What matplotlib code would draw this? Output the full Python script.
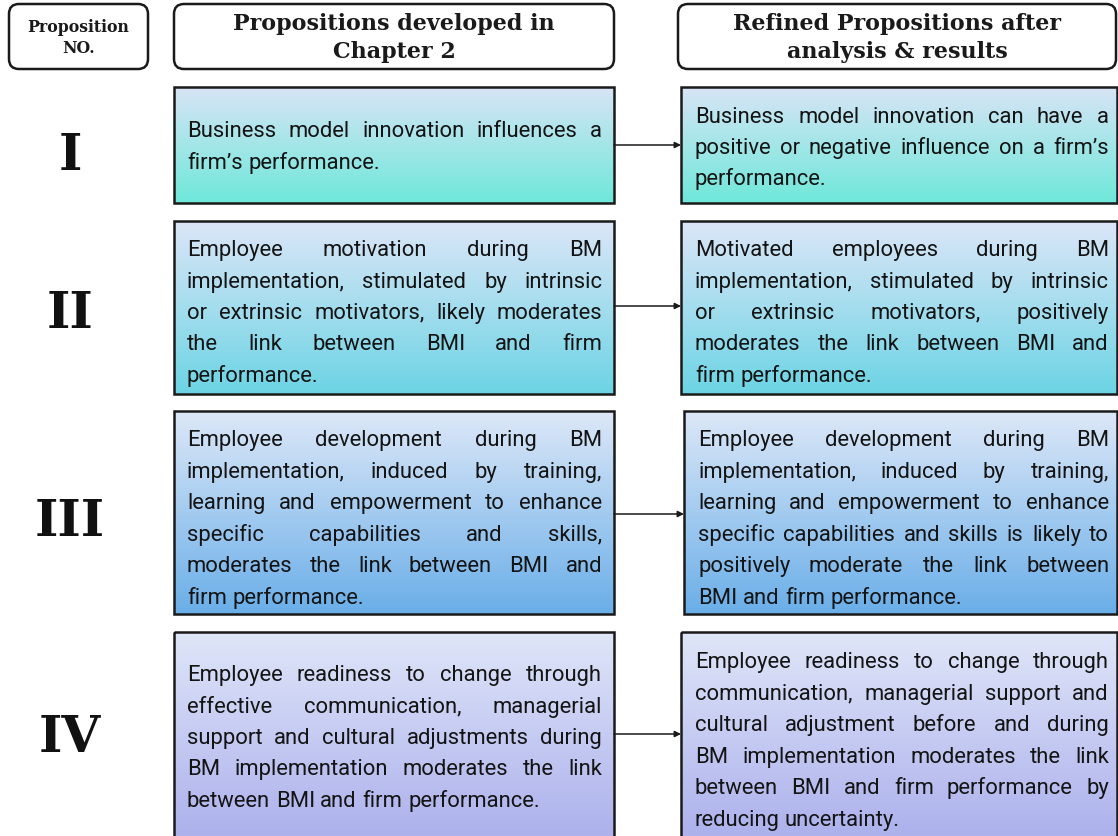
import matplotlib
matplotlib.use("Agg")
import matplotlib.pyplot as plt
import numpy as np
from matplotlib.patches import FancyBboxPatch, Rectangle
from matplotlib.font_manager import FontProperties
from matplotlib.colors import to_rgb

# ---------------- content ----------------
headers = ["Proposition\nNO.", "Propositions developed in\nChapter 2",
           "Refined Propositions after\nanalysis & results"]
numerals = ["I", "II", "III", "IV"]

left_lines = [
    ["Business model innovation influences a",
     "firm\u2019s performance."],
    ["Employee motivation during BM",
     "implementation, stimulated by intrinsic",
     "or extrinsic motivators, likely moderates",
     "the link between BMI and firm",
     "performance."],
    ["Employee development during BM",
     "implementation, induced by training,",
     "learning and empowerment to enhance",
     "specific capabilities and skills,",
     "moderates the link between BMI and",
     "firm performance."],
    ["Employee readiness to change through",
     "effective communication, managerial",
     "support and cultural adjustments during",
     "BM implementation moderates the link",
     "between BMI and firm performance."],
]
right_lines = [
    ["Business model innovation can have a",
     "positive or negative influence on a firm\u2019s",
     "performance."],
    ["Motivated employees during BM",
     "implementation, stimulated by intrinsic",
     "or extrinsic motivators, positively",
     "moderates the link between BMI and",
     "firm performance."],
    ["Employee development during BM",
     "implementation, induced by training,",
     "learning and empowerment to enhance",
     "specific capabilities and skills is likely to",
     "positively moderate the link between",
     "BMI and firm performance."],
    ["Employee readiness to change through",
     "communication, managerial support and",
     "cultural adjustment before and during",
     "BM implementation moderates the link",
     "between BMI and firm performance by",
     "reducing uncertainty."],
]
top_colors = ["#d8e4f6", "#dce6f8", "#dde8f8", "#dfe6f8"]
bottom_colors = ["#6ee8da", "#6cd4e4", "#6aaee8", "#acb0ec"]

# ---------------- layout ----------------
serif = "DejaVu Serif"
body = "Roboto"
FS = 22 * 72 / 100  # 22 px em
LINE = 31.4
TXT = "#141414"
body_fp = FontProperties(family=body, size=FS)


def ink_mask(s):
    f = plt.figure(figsize=(8, 1), dpi=100)
    f.text(0.02, 0.5, s, fontproperties=body_fp, va="baseline", color="black")
    f.canvas.draw()
    arr = np.asarray(f.canvas.buffer_rgba())[..., :3].astype(float).mean(axis=2)
    plt.close(f)
    return arr < 160


_shift_cache = {}


def baseline_shift(word):
    """Rows by which Agg draws `word` lower than a full-descent reference."""
    if word in _shift_cache:
        return _shift_cache[word]
    s = 0
    try:
        m1 = ink_mask(word)
        m2 = ink_mask(word + "p")
        cols = np.where(m1.any(axis=0))[0]
        if len(cols) > 4:
            c0, c1 = cols.min(), cols.max() - 2
            p1 = m1[:, c0:c1].sum(axis=1).astype(float)
            p2 = m2[:, c0:c1].sum(axis=1).astype(float)
            best = None
            for k in range(-4, 5):
                err = np.abs(np.roll(p1, -k) - p2).sum()
                if best is None or err < best:
                    best, s = err, k
    except Exception:
        s = 0
    _shift_cache[word] = s
    return s


W, H = 1118, 837
fig = plt.figure(figsize=(W / 100, H / 100), dpi=100)
ax = fig.add_axes([0, 0, 1, 1])
ax.set_xlim(0, W)
ax.set_ylim(H, 0)
ax.axis("off")

row_y = [(88, 204), (222, 395), (412, 615), (633, 841)]
left_x = (174, 614)
right_x = [(681, 1117), (681, 1117), (684, 1117), (681, 1117)]
left_text_center = [146, 312, 518, 737]
right_text_center = [147, 312, 518, 740]
numeral_center = [151, 309, 517, 733]
arrow_y = [146, 307, 515, 735]

# headers
hdr_boxes = [(9, 148), (174, 614), (678, 1116)]
hdr_sizes = [11.3, 16, 16]
hdr_ls = [1.35, 1.3, 1.3]
for (x0, x1), txt, fs, ls in zip(hdr_boxes, headers, hdr_sizes, hdr_ls):
    p = FancyBboxPatch((x0 + 10, 5 + 10), (x1 - x0) - 20, 65 - 20,
                       boxstyle="round,pad=10", fc="white", ec="#1a1a1a", lw=1.8)
    ax.add_patch(p)
    ax.text((x0 + x1) / 2, 38, txt, ha="center", va="center", family=serif,
            fontweight="bold", fontsize=fs, color="#1a1a1a", linespacing=ls)

fig.canvas.draw()
renderer = fig.canvas.get_renderer()


def width_of(s):
    w, h, d = renderer.get_text_width_height_descent(s, body_fp, ismath=False)
    return w


space_w = width_of("a a") - width_of("aa")


def justified(lines, x0, x1, yc):
    n = len(lines)
    first = yc - (n - 1) / 2 * LINE
    for i, line in enumerate(lines):
        words = line.split(" ")
        yb = round(first + i * LINE + 7)
        widths = [width_of(w) for w in words]
        if i == n - 1 or len(words) == 1:
            gap = space_w
        else:
            gap = (x1 - x0 - sum(widths)) / (len(words) - 1)
        x = x0
        for w, ww in zip(words, widths):
            ax.text(round(x), yb - baseline_shift(w), w, ha="left",
                    va="baseline", family=body, fontsize=FS, color=TXT)
            x += ww + gap


def grad_box(x0, x1, y0, y1, c_top, c_bot):
    t = np.array(to_rgb(c_top))
    b = np.array(to_rgb(c_bot))
    f = np.linspace(0, 1, 256)[:, None]
    img = (t[None, :] * (1 - f) + b[None, :] * f)[:, None, :]
    ax.imshow(img, extent=(x0, x1, y1, y0), aspect="auto", zorder=1,
              interpolation="bilinear")
    ax.add_patch(Rectangle((x0, y0), x1 - x0, y1 - y0, fill=False,
                           ec="#1a1a1a", lw=1.8, zorder=2))


for i in range(4):
    y0, y1 = row_y[i]
    grad_box(left_x[0], left_x[1], y0, y1, top_colors[i], bottom_colors[i])
    rx0, rx1 = right_x[i]
    grad_box(rx0, rx1, y0, y1, top_colors[i], bottom_colors[i])
    justified(left_lines[i], 187, 602, left_text_center[i])
    justified(right_lines[i], rx0 + 14, rx1 - 8, right_text_center[i])
    ax.text(70, numeral_center[i] + 19, numerals[i], ha="center", va="baseline",
            family=serif, fontweight="bold", fontsize=36, color="#111111")
    ay = arrow_y[i]
    ax.annotate("", xy=(rx0, ay), xytext=(left_x[1], ay),
                arrowprops=dict(arrowstyle="-|>", color="#1a1a1a", lw=1.1,
                                mutation_scale=9, shrinkA=0, shrinkB=0),
                zorder=3)

ax.set_xlim(0, W)
ax.set_ylim(H, 0)
fig.savefig("out.png", dpi=100)
